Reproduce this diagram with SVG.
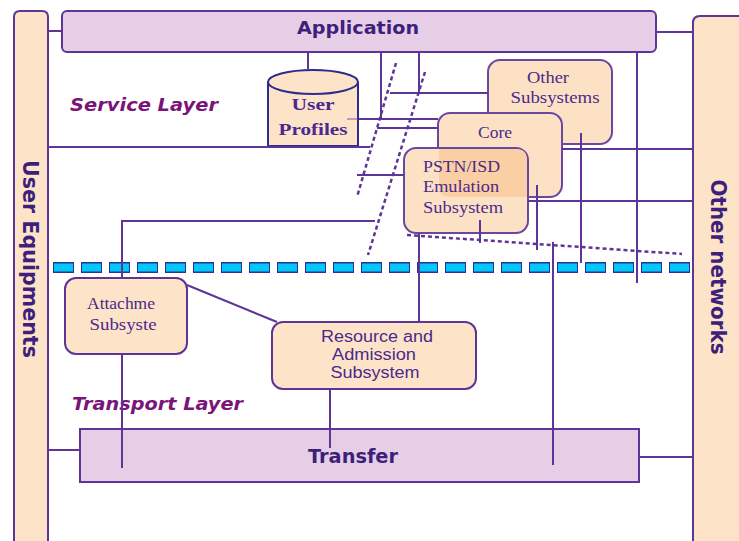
<svg xmlns="http://www.w3.org/2000/svg" width="739" height="541" viewBox="0 0 739 541">
<style>
.peach{fill:#FDE3C8;stroke:#5E3596;stroke-width:2}
.lilac{fill:#E5CEE6;stroke:#5E3596;stroke-width:2}
.sub{fill:#FDE1C4;stroke:#6A47A0;stroke-width:2}
.ln{stroke:#5E3596;stroke-width:2;fill:none}
.dash{stroke:#5E3596;stroke-width:2.5;stroke-dasharray:4 3;fill:none}
.big{font-family:"DejaVu Sans","Liberation Sans",sans-serif;font-weight:bold;fill:#3E1F7C}
.layer{font-family:"DejaVu Sans","Liberation Sans",sans-serif;font-weight:bold;font-style:italic;fill:#7A1478;font-size:17px}
.ser{font-family:"Liberation Serif","DejaVu Serif",serif;fill:#4A2A8C;font-size:16px}
.sans{font-family:"Liberation Sans",Arial,sans-serif;fill:#4A2A8C;font-size:16px}
</style>
<rect width="739" height="541" fill="#FFFFFF"/>

<g id="user-equipments">
<path class="peach" d="M14,560 V17 Q14,11 20,11 H42 Q48,11 48,17 V560 Z"/>
<text class="big" font-size="21" transform="translate(23,259) rotate(90)" text-anchor="middle" textLength="198" lengthAdjust="spacingAndGlyphs">User Equipments</text>
</g>

<g id="other-networks">
<path class="peach" d="M693,560 V23 Q693,16 700,16 H750 V560 Z"/>
<text class="big" font-size="21" transform="translate(711,267) rotate(90)" text-anchor="middle" textLength="175" lengthAdjust="spacingAndGlyphs">Other networks</text>
</g>

<g id="application">
<rect class="lilac" x="62" y="11" width="594" height="41" rx="5"/>
<text class="big" font-size="18" x="358" y="34" text-anchor="middle" textLength="122" lengthAdjust="spacingAndGlyphs">Application</text>
</g>

<g id="transfer">
<rect class="lilac" x="80" y="429" width="559" height="53"/>
<text class="big" font-size="19" x="353" y="463" text-anchor="middle" textLength="90" lengthAdjust="spacingAndGlyphs">Transfer</text>
</g>

<g id="layer-labels">
<text class="layer" x="70" y="111" textLength="148" lengthAdjust="spacingAndGlyphs">Service Layer</text>
<text class="layer" x="72" y="410" textLength="171" lengthAdjust="spacingAndGlyphs">Transport Layer</text>
</g>

<g id="layer-boundary">
<line x1="53" y1="267.5" x2="690" y2="267.5" stroke="#2F2F9A" stroke-width="11" stroke-dasharray="21 7"/>
<line x1="54" y1="267.5" x2="689" y2="267.5" stroke="#00C8F8" stroke-width="8" stroke-dasharray="19 9"/>
</g>

<g id="user-profiles">
<path d="M268,82 V146 H358 V82" fill="#FDE3C8" stroke="#2E2A8E" stroke-width="2"/>
<ellipse cx="313" cy="82" rx="45" ry="12" fill="#FDE3C8" stroke="#2E2A8E" stroke-width="2"/>
<text class="ser" font-weight="bold" font-size="17" x="313" y="110" text-anchor="middle" textLength="43" lengthAdjust="spacingAndGlyphs">User</text>
<text class="ser" font-weight="bold" font-size="17" x="313" y="135" text-anchor="middle" textLength="69" lengthAdjust="spacingAndGlyphs">Profiles</text>
</g>

<g id="other-subsystems">
<rect class="sub" x="488" y="60" width="124" height="84" rx="12"/>
<text class="ser" x="548" y="83" text-anchor="middle" textLength="42" lengthAdjust="spacingAndGlyphs">Other</text>
<text class="ser" x="555" y="103" text-anchor="middle" textLength="89" lengthAdjust="spacingAndGlyphs">Subsystems</text>
</g>

<g id="core">
<rect class="sub" x="438" y="113" width="124" height="84" rx="12"/>
<text class="ser" x="495" y="138" text-anchor="middle" textLength="34" lengthAdjust="spacingAndGlyphs">Core</text>
</g>

<g id="pstn-isd-emulation">
<rect class="sub" x="404" y="148" width="124" height="85" rx="12"/>
<path d="M439,149 H516 Q527,149 527,160 V197 H450 Q439,197 439,186 Z" fill="#FBCFA4"/>
<text class="ser" x="423" y="172" textLength="77" lengthAdjust="spacingAndGlyphs">PSTN/ISD</text>
<text class="ser" x="423" y="192" textLength="76" lengthAdjust="spacingAndGlyphs">Emulation</text>
<text class="ser" x="423" y="213" textLength="80" lengthAdjust="spacingAndGlyphs">Subsystem</text>
</g>

<g id="attachment">
<rect class="peach" x="65" y="278" width="122" height="76" rx="11"/>
<text class="ser" font-size="15" x="121" y="309" text-anchor="middle" textLength="68" lengthAdjust="spacingAndGlyphs">Attachme</text>
<text class="ser" font-size="15" x="123" y="330" text-anchor="middle" textLength="67" lengthAdjust="spacingAndGlyphs">Subsyste</text>
</g>

<g id="resource-admission">
<rect class="peach" x="272" y="322" width="204" height="67" rx="11"/>
<text class="sans" x="377" y="342" text-anchor="middle" textLength="112" lengthAdjust="spacingAndGlyphs">Resource and</text>
<text class="sans" x="374" y="360" text-anchor="middle" textLength="84" lengthAdjust="spacingAndGlyphs">Admission</text>
<text class="sans" x="375" y="378" text-anchor="middle" textLength="89" lengthAdjust="spacingAndGlyphs">Subsystem</text>
</g>

<g id="connectors">
<line class="ln" x1="48" y1="31" x2="62" y2="31"/>
<line class="ln" x1="656" y1="32" x2="693" y2="32"/>
<line class="ln" x1="308" y1="52" x2="308" y2="70"/>
<line class="ln" x1="381" y1="52" x2="381" y2="119"/>
<line class="ln" x1="419" y1="52" x2="419" y2="93"/>
<line class="ln" x1="419" y1="233" x2="419" y2="322"/>
<line class="ln" x1="637" y1="52" x2="637" y2="283"/>
<line class="ln" x1="48" y1="147" x2="370" y2="147"/>
<line class="ln" x1="390" y1="93" x2="488" y2="93"/>
<line class="ln" x1="347" y1="119" x2="359" y2="119" stroke-opacity="0.4"/>
<line class="ln" x1="359" y1="119" x2="438" y2="119"/>
<line class="ln" x1="377" y1="128" x2="438" y2="128"/>
<line class="ln" x1="357" y1="175" x2="404" y2="175"/>
<line class="ln" x1="562" y1="149" x2="693" y2="149"/>
<line class="ln" x1="528" y1="201" x2="693" y2="201"/>
<line class="ln" x1="122" y1="221" x2="375" y2="221"/>
<line class="ln" x1="122" y1="220" x2="122" y2="278"/>
<line class="ln" x1="122" y1="354" x2="122" y2="468"/>
<line class="ln" x1="480" y1="220" x2="480" y2="243"/>
<line class="ln" x1="537" y1="185" x2="537" y2="250"/>
<line class="ln" x1="581" y1="133" x2="581" y2="263"/>
<line class="ln" x1="553" y1="242" x2="553" y2="465"/>
<line class="ln" x1="187" y1="285" x2="277" y2="322"/>
<line class="ln" x1="330" y1="389" x2="330" y2="448"/>
<line class="ln" x1="48" y1="450" x2="80" y2="450"/>
<line class="ln" x1="639" y1="457" x2="693" y2="457"/>
<line class="dash" x1="396" y1="63" x2="357" y2="197"/>
<line class="dash" x1="425" y1="72" x2="368" y2="255"/>
<line class="dash" x1="407" y1="235" x2="682" y2="254"/>
</g>
</svg>
